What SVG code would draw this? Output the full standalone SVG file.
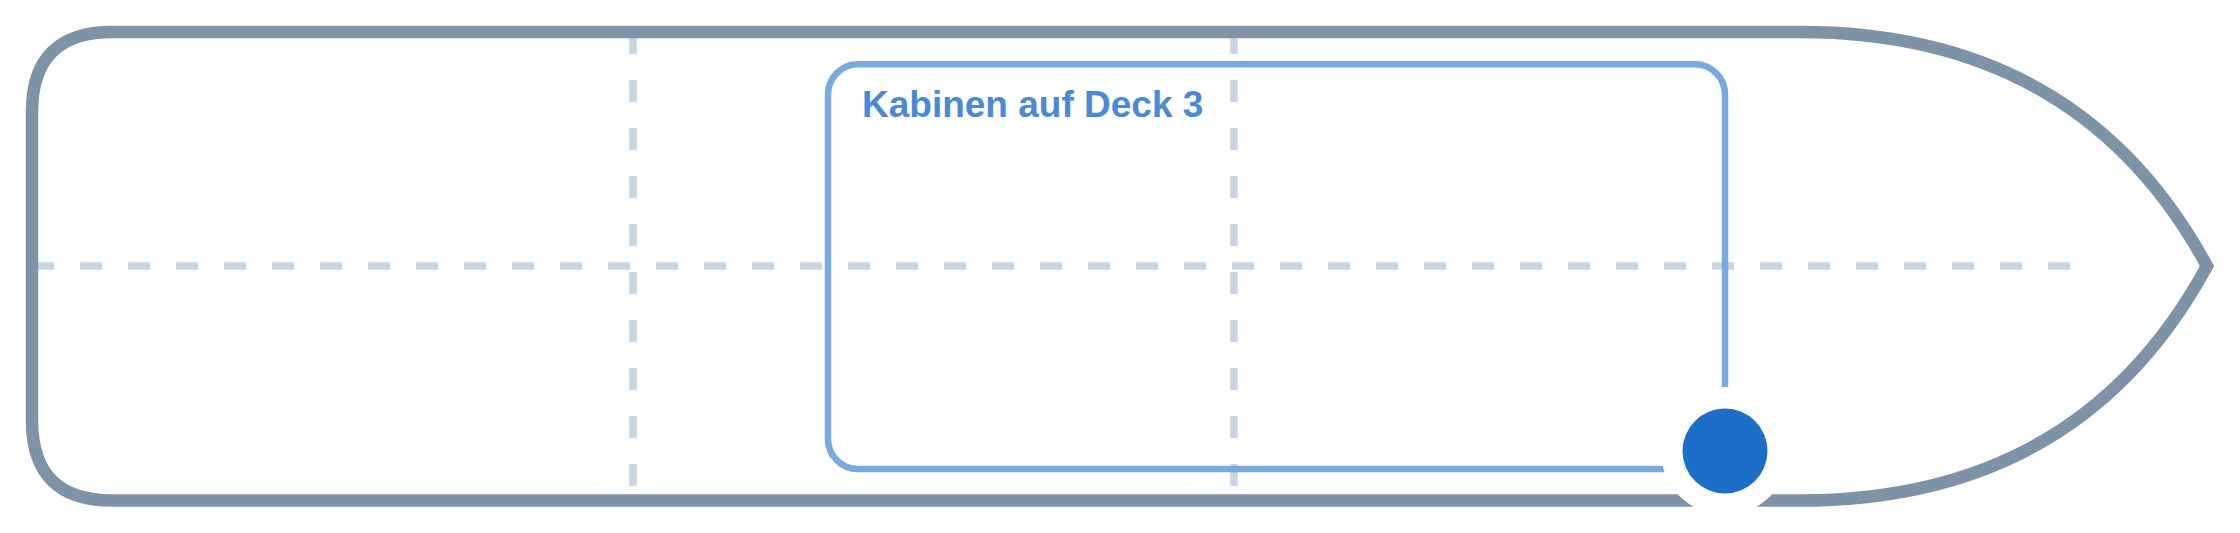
<svg xmlns="http://www.w3.org/2000/svg" width="2240" height="533" viewBox="0 0 2240 533">
  <style>
    .grid { stroke: #c9d5e0; stroke-width: 7.5; stroke-dasharray: 22 26; fill: none; }
    .hull { stroke: #7f93a8; stroke-width: 12.5; fill: none; stroke-linejoin: miter; stroke-miterlimit: 10; }
    .cabin { stroke: #78a9df; stroke-width: 6.5; fill: none; }
    .label { font-family: "Liberation Sans", Arial, sans-serif; font-weight: bold; font-size: 37px; fill: #4a89d6; }
  </style>
  <rect width="2240" height="533" fill="#ffffff"/>
  <g id="grid">
    <line class="grid" x1="32" y1="266" x2="2072" y2="266"/>
    <line class="grid" x1="633" y1="32" x2="633" y2="500"/>
    <line class="grid" x1="1234" y1="32" x2="1234" y2="500"/>
  </g>
  <g id="hull">
    <path class="hull" d="M 112 32 L 1800 32 Q 2080 32 2207 266 Q 2080 500.5 1800 500.5 L 112 500.5 Q 32 500.5 32 420.5 L 32 112 Q 32 32 112 32 Z"/>
  </g>
  <g id="cabins-deck-3">
    <rect class="cabin" x="828" y="64.3" width="897" height="404.7" rx="30" ry="30"/>
    <text class="label" x="862" y="117">Kabinen auf Deck 3</text>
  </g>
  <g id="connectors"/>
  <g id="marker">
    <circle cx="1725" cy="451" r="64" fill="#ffffff"/>
    <circle cx="1725" cy="451" r="42.5" fill="#1c6ec9"/>
  </g>
</svg>
